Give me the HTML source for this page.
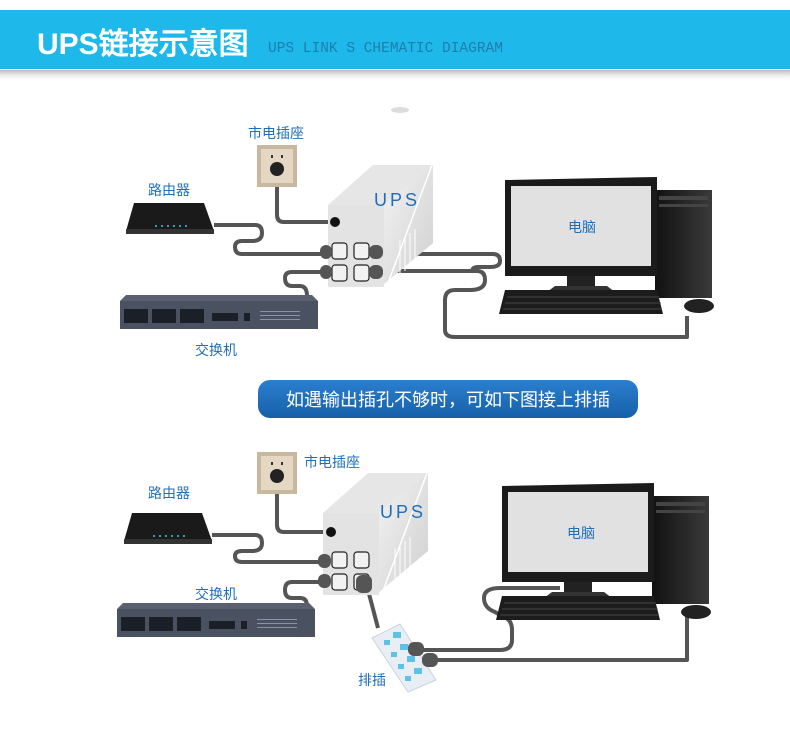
<!DOCTYPE html>
<html><head><meta charset="utf-8"><style>
html,body{margin:0;padding:0;background:#fff;width:790px;height:751px;overflow:hidden}
svg text{font-family:"Liberation Sans","Noto Sans CJK SC",sans-serif}
</style></head><body>
<svg width="790" height="751" viewBox="0 0 790 751" xmlns="http://www.w3.org/2000/svg">
<defs>
<linearGradient id="sh" x1="0" y1="0" x2="0" y2="1"><stop offset="0" stop-color="#777"/><stop offset="1" stop-color="#fff" stop-opacity="0"/></linearGradient>
<linearGradient id="ups" x1="0" y1="0" x2="1" y2="1"><stop offset="0" stop-color="#f4f4f4"/><stop offset="1" stop-color="#cfcfcf"/></linearGradient>
<linearGradient id="ban" x1="0" y1="0" x2="0" y2="1"><stop offset="0" stop-color="#2b7fd0"/><stop offset="1" stop-color="#1660a8"/></linearGradient>
<linearGradient id="tw" x1="0" y1="0" x2="1" y2="0"><stop offset="0" stop-color="#111"/><stop offset="1" stop-color="#3a3a3a"/></linearGradient>
<g id="router"><path d="M0 30 L8 2 L78 2 L88 30 Z" fill="#1a1a1a"/><rect x="0" y="28" width="88" height="5" fill="#333"/><g fill="#3cd"><circle cx="30" cy="25" r="1"/><circle cx="36" cy="25" r="1"/><circle cx="42" cy="25" r="1"/><circle cx="48" cy="25" r="1"/><circle cx="54" cy="25" r="1"/><circle cx="60" cy="25" r="1"/></g></g>
<g id="switch"><path d="M6 0 L192 0 L198 6 L0 6 Z" fill="#5a6070"/><rect x="0" y="6" width="198" height="28" fill="#4a5262"/><g fill="#1b1f28"><rect x="4" y="14" width="24" height="14"/><rect x="32" y="14" width="24" height="14"/><rect x="60" y="14" width="24" height="14"/><rect x="92" y="18" width="26" height="8"/><rect x="124" y="18" width="6" height="8"/></g><g fill="#8a93a3"><rect x="140" y="16" width="40" height="1"/><rect x="140" y="20" width="40" height="1"/><rect x="140" y="24" width="40" height="1"/></g></g>
<g id="wall"><rect x="0" y="0" width="40" height="42" fill="#c9b8a0"/><rect x="4" y="4" width="32" height="34" fill="#e4d7c3"/><rect x="14" y="10" width="2" height="3" fill="#333"/><rect x="24" y="10" width="2" height="3" fill="#333"/><circle cx="20" cy="24" r="7" fill="#222"/></g>
<g id="upsbox"><path d="M0 40 L45 0 L105 0 L60 40 Z" fill="#e6e6e6"/><path d="M55 40 L105 0 L105 78 L55 120 Z" fill="url(#ups)"/><rect x="0" y="40" width="56" height="82" fill="#e3e3e3"/><path d="M60 118 L104 0" stroke="#fff" stroke-width="1.5"/><g stroke="#fff" stroke-width="1"><line x1="72" y1="75" x2="72" y2="110"/><line x1="77" y1="72" x2="77" y2="106"/><line x1="82" y1="68" x2="82" y2="102"/><line x1="87" y1="64" x2="87" y2="98"/></g></g>
<g id="outlets" fill="#f2f2f2" stroke="#222" stroke-width="1.2"><rect x="0" y="0" width="15" height="16" rx="3"/><rect x="22" y="0" width="15" height="16" rx="3"/><rect x="0" y="22" width="15" height="16" rx="3"/><rect x="22" y="22" width="15" height="16" rx="3"/></g>
<g id="pc"><rect x="150" y="10" width="57" height="108" fill="url(#tw)"/><rect x="154" y="16" width="49" height="4" fill="#444"/><rect x="154" y="24" width="49" height="3" fill="#444"/><path d="M0 0 L152 -3 L152 96 L0 96 Z" fill="#1b1b1b"/><rect x="6" y="6" width="140" height="80" fill="#e1e1e1"/><rect x="62" y="96" width="28" height="10" fill="#222"/><path d="M50 106 L102 106 L110 112 L42 112 Z" fill="#333"/><path d="M0 110 L152 110 L158 134 L-6 134 Z" fill="#1c1c1c"/><g stroke="#555" stroke-width="0.8"><line x1="2" y1="117" x2="154" y2="117"/><line x1="0" y1="123" x2="156" y2="123"/><line x1="-2" y1="129" x2="157" y2="129"/></g><ellipse cx="194" cy="126" rx="15" ry="7" fill="#222"/></g>
</defs>
<!-- header -->
<rect x="0" y="70" width="790" height="12" fill="url(#sh)" opacity="0.5"/>
<rect x="0" y="10" width="790" height="59" fill="#1fb8ea"/>
<text x="37" y="54" font-size="30" font-weight="bold" fill="#fff" style="font-family:'Liberation Sans','WenQuanYi Zen Hei',sans-serif">UPS链接示意图</text>
<text x="268" y="52" font-size="14.5" fill="#1c7fae" style="font-family:'Liberation Mono',monospace">UPS LINK S CHEMATIC DIAGRAM</text>
<ellipse cx="400" cy="110" rx="9" ry="3" fill="#ddd"/>

<!-- TOP diagram cables -->
<g fill="none" stroke="#555" stroke-width="4" stroke-linejoin="round">
<path d="M277 178 L277 215 Q277 222 284 222 L334 222"/>
<path d="M214 225 L255 225 Q262 225 262 233 Q262 241 252 241 L242 241 Q235 241 235 247 Q235 254 242 254 L322 254"/>
<path d="M322 272 L292 272 Q285 272 285 278 Q285 286 292 286 L300 286 Q307 286 307 296"/>
<path d="M384 254 L493 254 Q500 254 500 261 Q500 267 490 267 L478 267 Q472 267 472 272"/>
<path d="M384 271 L477 271 Q485 271 485 280 Q485 290 470 290 L455 290 Q445 290 445 300 L445 330 Q445 337 455 337 L687 337 L687 316"/>
</g>
<use href="#wall" x="257" y="145"/>
<use href="#router" x="126" y="201"/>
<use href="#upsbox" x="328" y="165"/>
<circle cx="335" cy="222" r="5" fill="#111"/>
<use href="#outlets" x="332" y="243"/>
<g fill="#555"><rect x="320" y="245" width="12" height="14" rx="6"/><rect x="320" y="265" width="12" height="14" rx="6"/><rect x="369" y="245" width="14" height="14" rx="6"/><rect x="369" y="265" width="14" height="14" rx="6"/></g>
<use href="#switch" x="120" y="295"/>
<use href="#pc" x="505" y="180"/>
<text x="248" y="138" font-size="14" fill="#1f6fb8">市电插座</text>
<text x="148" y="195" font-size="14" fill="#1f6fb8">路由器</text>
<text x="195" y="355" font-size="14" fill="#1f6fb8">交换机</text>
<text x="374" y="206" font-size="18" fill="#1f6fb8" letter-spacing="3">UPS</text>
<text x="568" y="232" font-size="14" fill="#1f6fb8">电脑</text>

<!-- banner -->
<rect x="258" y="380" width="380" height="38" rx="12" fill="url(#ban)"/>
<text x="448" y="406" font-size="18" fill="#fff" text-anchor="middle">如遇输出插孔不够时，可如下图接上排插</text>

<!-- BOTTOM diagram cables -->
<g fill="none" stroke="#555" stroke-width="4" stroke-linejoin="round">
<path d="M277 487 L277 525 Q277 532 284 532 L328 532"/>
<path d="M212 535 L255 535 Q262 535 262 543 Q262 551 252 551 L242 551 Q235 551 235 556 Q235 562 242 562 L322 562"/>
<path d="M322 582 L292 582 Q285 582 285 590 Q285 598 292 598 L300 598 Q307 598 307 606"/>
<path d="M368 590 L378 628"/>
<path d="M420 650 L500 650 Q512 650 512 640 L512 630 Q512 618 500 615 L495 612 Q484 608 484 598 Q484 588 500 588 L560 588"/>
<path d="M432 660 L687 660 L687 607"/>
</g>
<use href="#wall" x="257" y="452"/>
<use href="#router" x="124" y="511"/>
<use href="#upsbox" x="323" y="473"/>
<circle cx="331" cy="532" r="5" fill="#111"/>
<use href="#outlets" x="332" y="552"/>
<g fill="#555"><rect x="318" y="554" width="13" height="14" rx="6"/><rect x="318" y="574" width="13" height="14" rx="6"/><rect x="356" y="575" width="16" height="18" rx="6"/></g>
<use href="#switch" x="117" y="603"/>
<path d="M372 638 L400 624 L436 680 L408 692 Z" fill="#e8eef4" stroke="#c7d4e0"/>
<g fill="#5fc1e6"><rect x="393" y="632" width="8" height="6"/><rect x="400" y="644" width="8" height="6"/><rect x="407" y="656" width="8" height="6"/><rect x="414" y="668" width="8" height="6"/><rect x="384" y="640" width="6" height="5"/><rect x="391" y="652" width="6" height="5"/><rect x="398" y="664" width="6" height="5"/><rect x="405" y="676" width="6" height="5"/></g>
<g fill="#555"><rect x="408" y="642" width="16" height="14" rx="6"/><rect x="422" y="653" width="16" height="14" rx="6"/></g>
<use href="#pc" x="502" y="486"/>
<text x="304" y="467" font-size="14" fill="#1f6fb8">市电插座</text>
<text x="148" y="498" font-size="14" fill="#1f6fb8">路由器</text>
<text x="195" y="599" font-size="14" fill="#1f6fb8">交换机</text>
<text x="358" y="685" font-size="14" fill="#1f6fb8">排插</text>
<text x="380" y="518" font-size="18" fill="#1f6fb8" letter-spacing="3">UPS</text>
<text x="567" y="538" font-size="14" fill="#1f6fb8">电脑</text>
</svg>
</body></html>
